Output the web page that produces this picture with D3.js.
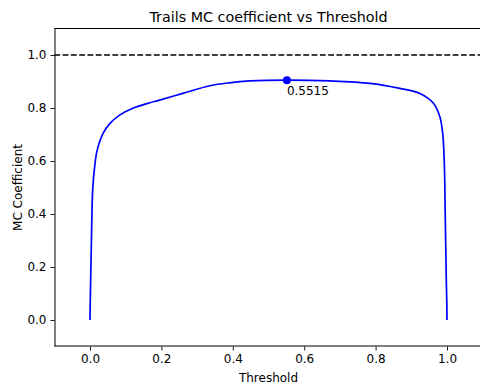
<!DOCTYPE html>
<html>
<head>
<meta charset="utf-8">
<script src="https://cdn.jsdelivr.net/npm/d3@7"></script>
<style>
body { margin: 0; background: #fff; }
text { font-family: "DejaVu Sans", sans-serif; }
</style>
</head>
<body>
<svg id="chart" width="480" height="387"></svg>
<script>
const thresholds = [0, 0.001, 0.0036, 0.0075, 0.013, 0.02, 0.037, 0.056, 0.084, 0.12, 0.168, 0.19, 0.26, 0.336, 0.39, 0.448, 0.5515, 0.672, 0.784, 0.868, 0.924, 0.962, 0.98, 0.988, 0.9925, 0.995, 0.998, 0.9995, 1.0];
const mcValues   = [0, 0.09, 0.27, 0.49, 0.578, 0.64, 0.705, 0.742, 0.774, 0.799, 0.82, 0.828, 0.855, 0.884, 0.895, 0.902, 0.905, 0.902, 0.893, 0.874, 0.855, 0.818, 0.767, 0.704, 0.591, 0.403, 0.151, 0.06, 0];
const bestThreshold = 0.5515;
const bestValue = 0.905;
const refLine = 1.0;
const tickValues = [0, 0.2, 0.4, 0.6, 0.8, 1.0];
const title = "Trails MC coefficient vs Threshold";
const xLabel = "Threshold";
const yLabel = "MC Coefficient";

const svg = d3.select("#chart");
const x = d3.scaleLinear().domain([-0.1, 1.1]).range([54.3, 482.7]);
const y = d3.scaleLinear().domain([-0.1, 1.1]).range([346.5, 28.5]);

// spines
svg.append("line").attr("x1", 55).attr("x2", 55).attr("y1", 28.5).attr("y2", 346.5).attr("stroke", "#000").attr("stroke-width", 1);
svg.append("line").attr("x1", 54.5).attr("x2", 480).attr("y1", 346).attr("y2", 346).attr("stroke", "#000").attr("stroke-width", 1);
svg.append("line").attr("x1", 54.5).attr("x2", 480).attr("y1", 28.5).attr("y2", 28.5).attr("stroke", "#000").attr("stroke-width", 1);

// axes
const xAxis = d3.axisBottom(x).tickValues(tickValues).tickFormat(d3.format(".1f")).tickSize(4).tickPadding(4);
const gx = svg.append("g").attr("transform", "translate(0,346.5)").call(xAxis);
gx.select(".domain").remove();
gx.selectAll("text").attr("font-size", 12).attr("fill", "#000").style("font-family", "DejaVu Sans");
gx.selectAll("line").attr("stroke", "#000").attr("stroke-width", 0.9);

const yAxis = d3.axisLeft(y).tickValues(tickValues).tickFormat(d3.format(".1f")).tickSize(4).tickPadding(4);
const gy = svg.append("g").attr("transform", "translate(54.5,0)").call(yAxis);
gy.select(".domain").remove();
gy.selectAll("text").attr("font-size", 12).attr("fill", "#000").style("font-family", "DejaVu Sans");
gy.selectAll("line").attr("stroke", "#000").attr("stroke-width", 0.9);

// reference dashed line
svg.append("line")
  .attr("x1", x(-0.1)).attr("x2", x(1.1))
  .attr("y1", y(refLine)).attr("y2", y(refLine))
  .attr("stroke", "#000").attr("stroke-width", 1.7)
  .attr("stroke-dasharray", "5.8,2.5");

// curve
const data = thresholds.map((t, i) => [t, mcValues[i]]);
const line = d3.line().x(d => x(d[0])).y(d => y(d[1])).curve(d3.curveCatmullRom.alpha(0.5));
svg.append("path").datum(data).attr("d", line)
  .attr("fill", "none").attr("stroke", "#0000ff").attr("stroke-width", 1.7);

// best point
svg.append("circle").attr("cx", x(bestThreshold)).attr("cy", y(bestValue)).attr("r", 4).attr("fill", "#0000ff");
svg.append("text").attr("x", x(bestThreshold)).attr("y", y(bestValue) + 15)
  .attr("font-size", 12).attr("fill", "#000").text(bestThreshold.toFixed(4));

// title & labels
svg.append("text").attr("x", 268.5).attr("y", 21.5).attr("text-anchor", "middle").attr("font-size", 14.3).text(title);
svg.append("text").attr("x", 268.5).attr("y", 382).attr("text-anchor", "middle").attr("font-size", 12).text(xLabel);
svg.append("text").attr("transform", "translate(21.5,187.5) rotate(-90)").attr("text-anchor", "middle").attr("font-size", 12).text(yLabel);
</script>
</body>
</html>
